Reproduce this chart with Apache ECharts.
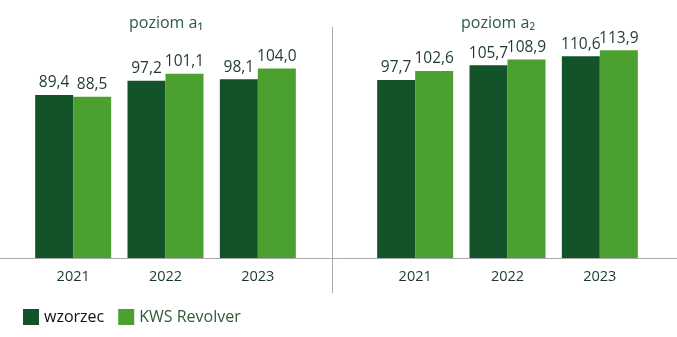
<!DOCTYPE html>
<html><head><meta charset="utf-8">
<script src="https://cdn.jsdelivr.net/npm/echarts@6/dist/echarts.min.js"></script>
<style>html,body{margin:0;padding:0;background:#fff}#c{width:677px;height:337px}</style>
</head><body><div id="c"></div>
<script>
const years = ['2021', '2022', '2023'];
const panelTitles = ['poziom a\u2081', 'poziom a\u2082'];
const seriesNames = ['wzorzec', 'KWS Revolver'];
const a1Wzorzec = [89.4, 97.2, 98.1];
const a1Revolver = [88.5, 101.1, 104.0];
const a2Wzorzec = [97.7, 105.7, 110.6];
const a2Revolver = [102.6, 108.9, 113.9];

const DARK = '#14522a', LIGHT = '#4ba030';
const FONT = 'Open Sans';
const chart = echarts.init(document.getElementById('c'));
const fmt = p => p.value.toFixed(1).replace('.', ',');
const lbl = {show: true, position: 'top', distance: 4, formatter: fmt, color: '#1f3b2a', fontSize: 15.5, fontWeight: 500, fontFamily: FONT};
function bar(name, data, idx, color) {
  return {type: 'bar', name, data, xAxisIndex: idx, yAxisIndex: idx, barWidth: 38, barGap: '0%',
    itemStyle: {color}, label: lbl, emphasis: {disabled: true}};
}
const grids = [{left: 27, width: 277, top: 21, height: 237}, {left: 369, width: 277, top: 21, height: 237}];
chart.setOption({
  animation: false,
  textStyle: {fontFamily: FONT},
  title: [
    {text: panelTitles[0], left: 161, top: 10, textAlign: 'center', textStyle: {fontSize: 16, fontWeight: 500, color: '#2c5a4c', fontFamily: FONT}},
    {text: panelTitles[1], left: 493, top: 10, textAlign: 'center', textStyle: {fontSize: 16, fontWeight: 500, color: '#2c5a4c', fontFamily: FONT}}
  ],
  legend: {
    left: 18, top: 304, itemWidth: 16, itemHeight: 16, itemGap: 14, icon: 'rect',
    textStyle: {fontSize: 16, fontWeight: 500, fontFamily: FONT, padding: [0, 0, 0, 0]},
    data: [
      {name: seriesNames[0], textStyle: {color: '#111'}},
      {name: seriesNames[1], textStyle: {color: '#2b5b3a'}}
    ]
  },
  grid: grids,
  xAxis: [0, 1].map(i => ({
    type: 'category', data: years, gridIndex: i,
    axisLine: {show: false}, axisTick: {show: false},
    axisLabel: {margin: 11, fontSize: 14.5, fontWeight: 500, color: '#1b3a2b', fontFamily: FONT}
  })),
  yAxis: [0, 1].map(i => ({
    type: 'value', gridIndex: i, min: 0, max: 130, show: false, splitLine: {show: false}
  })),
  series: [
    bar(seriesNames[0], a1Wzorzec, 0, DARK),
    bar(seriesNames[1], a1Revolver, 0, LIGHT),
    bar(seriesNames[0], a2Wzorzec, 1, DARK),
    bar(seriesNames[1], a2Revolver, 1, LIGHT)
  ],
  graphic: [
    {type: 'line', shape: {x1: 0, y1: 258.5, x2: 677, y2: 258.5}, style: {stroke: '#aaaaaa', lineWidth: 1}, z: 10},
    {type: 'line', shape: {x1: 332.5, y1: 27, x2: 332.5, y2: 293}, style: {stroke: '#aaaaaa', lineWidth: 1}, z: 10}
  ]
});
</script></body></html>
